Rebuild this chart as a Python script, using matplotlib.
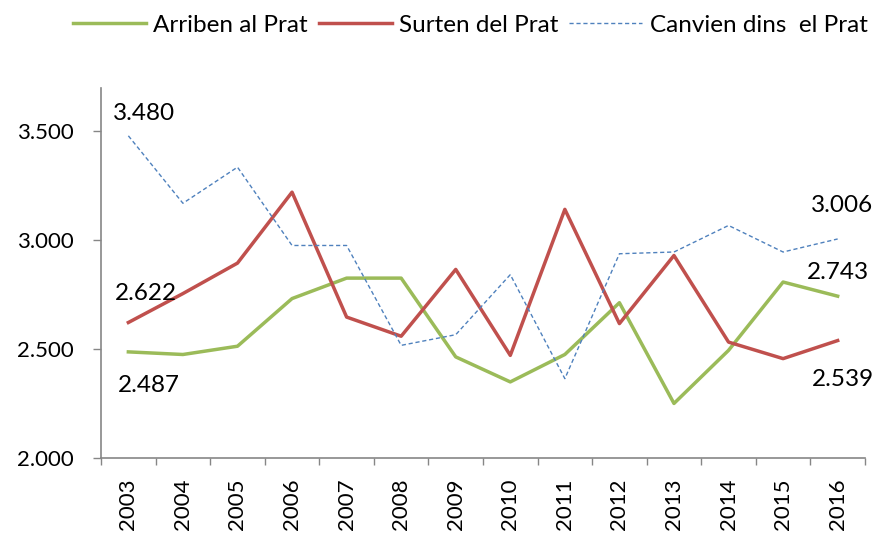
import matplotlib
matplotlib.use("Agg")
import matplotlib.pyplot as plt
import numpy as np

# data
years = ["2003", "2004", "2005", "2006", "2007", "2008", "2009",
         "2010", "2011", "2012", "2013", "2014", "2015", "2016"]
arriben = [2487, 2475, 2513, 2732, 2826, 2826, 2464,
           2349, 2475, 2713, 2250, 2494, 2808, 2743]
surten = [2622, 2755, 2895, 3221, 2647, 2559, 2866,
          2471, 3142, 2617, 2930, 2532, 2456, 2539]
canvien = [3480, 3170, 3336, 2976, 2976, 2517, 2566,
           2842, 2364, 2938, 2946, 3068, 2946, 3006]
yticks = [2000, 2500, 3000, 3500]

green = "#9BBB59"
red = "#C0504D"
blue = "#4F81BD"
grey = "#868686"

plt.rcParams['font.family'] = ['Lato', 'DejaVu Sans']

def fmt(v):
    return f"{v:,}".replace(",", ".")

fig = plt.figure(figsize=(8.79, 5.33), dpi=100)
ax = fig.add_axes([0.115, 0.141, 0.869, 0.694])

x = np.arange(len(years))
l1, = ax.plot(x, arriben, color=green, lw=2.5, label="Arriben al Prat")
l2, = ax.plot(x, surten, color=red, lw=2.5, label="Surten del Prat")
l3, = ax.plot(x, canvien, color=blue, lw=1.0, ls=(0, (3, 2)), label="Canvien dins  el Prat")

ax.set_xlim(-0.5, len(years) - 0.5)
ax.set_ylim(2000, 3700)

# y axis
ax.set_yticks(yticks)
ax.set_yticklabels([fmt(v) for v in yticks])
ax.tick_params(axis="y", direction="out", length=6, width=1, color=grey,
               labelsize=16, pad=14)

# x axis: labels at categories, tick marks between them
ax.set_xticks(x)
ax.set_xticklabels(years, rotation=90)
ax.set_xticks(np.arange(len(years) + 1) - 0.5, minor=True)
ax.tick_params(axis="x", which="major", length=0, labelsize=16, pad=15)
ax.tick_params(axis="x", which="minor", direction="out", length=5, width=1, color=grey)

for s in ["top", "right"]:
    ax.spines[s].set_visible(False)
for s in ["left", "bottom"]:
    ax.spines[s].set_color(grey)
    ax.spines[s].set_linewidth(1.2)

# data labels at start and end of each line
last = len(years) - 1
labels = [
    (0, canvien[0], 11, 16),
    (0, surten[0], 13, 21),
    (0, arriben[0], 15, -24),
    (last, canvien[last], 3, 24),
    (last, arriben[last], 0, 17),
    (last, surten[last], 4, -28),
]
for xi, v, dx, dy in labels:
    ax.annotate(fmt(v), (xi, v), xytext=(dx, dy), textcoords="offset points",
                ha="center", va="center", fontsize=17.5)

fig.legend(handles=[l1, l2, l3], loc="center", bbox_to_anchor=(0.535, 0.953),
           ncol=3, frameon=False, fontsize=17.5, handlelength=3.0,
           handletextpad=0.3, columnspacing=0.45)

fig.savefig("out.png", dpi=100)
